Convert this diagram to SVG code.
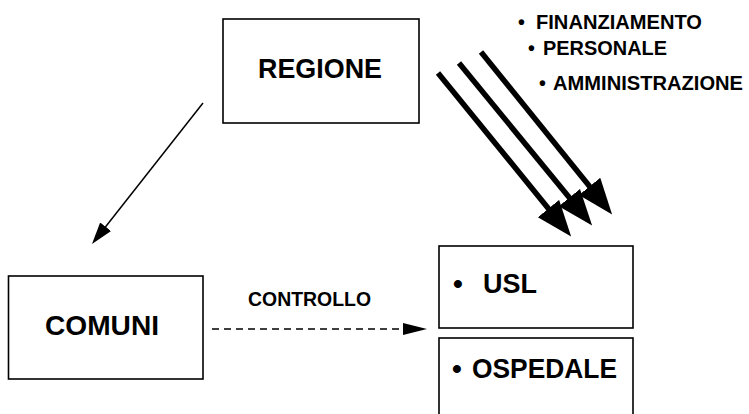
<svg xmlns="http://www.w3.org/2000/svg" width="749" height="414" viewBox="0 0 749 414">
  <defs>
    <style>
      .box { fill: #ffffff; stroke: #000000; stroke-width: 1.6; }
      .lbl { font-family: "Liberation Sans", Arial, sans-serif; font-weight: bold; fill: #000000; }
      .big { font-size: 28px; }
      .small { font-size: 19.5px; }
      .thin { stroke: #000000; stroke-width: 1.5; fill: none; }
      .thick { stroke: #000000; stroke-width: 5.5; fill: none; stroke-linecap: butt; }
      .dash { stroke: #000000; stroke-width: 1.3; fill: none; stroke-dasharray: 7 5; }
    </style>
    <marker id="headBig" markerUnits="userSpaceOnUse" markerWidth="38" markerHeight="30" viewBox="0 -14 36 28" refX="2" refY="0" orient="auto">
      <path d="M0,-13 L34,0 L0,13 Z" fill="#000000"/>
    </marker>
    <marker id="headSmall" markerUnits="userSpaceOnUse" markerWidth="24" markerHeight="16" viewBox="0 -8 24 16" refX="1" refY="0" orient="auto">
      <path d="M0,-7 L22,0 L0,7 Z" fill="#000000"/>
    </marker>
    <marker id="headDash" markerUnits="userSpaceOnUse" markerWidth="26" markerHeight="14" viewBox="0 -7 26 14" refX="1" refY="0" orient="auto">
      <path d="M0,-6 L24,0 L0,6 Z" fill="#000000"/>
    </marker>
  </defs>

  <rect width="749" height="414" fill="#ffffff"/>

  <g id="regione">
    <rect class="box" x="223" y="19" width="196" height="104"/>
    <text class="lbl big" x="258" y="78" textLength="124" lengthAdjust="spacingAndGlyphs">REGIONE</text>
  </g>

  <g id="comuni">
    <rect class="box" x="8.5" y="276" width="194.5" height="103"/>
    <text class="lbl big" x="45" y="335" textLength="114" lengthAdjust="spacingAndGlyphs">COMUNI</text>
  </g>

  <g id="usl">
    <rect class="box" x="439" y="246" width="194" height="82"/>
    <text class="lbl big" x="453" y="293">•</text>
    <text class="lbl big" x="483" y="293" textLength="54" lengthAdjust="spacingAndGlyphs">USL</text>
  </g>

  <g id="ospedale">
    <rect class="box" x="439" y="338" width="194" height="80"/>
    <text class="lbl big" x="452" y="378">•</text>
    <text class="lbl big" x="472" y="378" textLength="145" lengthAdjust="spacingAndGlyphs">OSPEDALE</text>
  </g>

  <g id="labels">
    <text class="lbl small" x="518" y="29">•</text>
    <text class="lbl small" x="536" y="29" textLength="166" lengthAdjust="spacingAndGlyphs">FINANZIAMENTO</text>
    <text class="lbl small" x="528" y="55">•</text>
    <text class="lbl small" x="543" y="55" textLength="124" lengthAdjust="spacingAndGlyphs">PERSONALE</text>
    <text class="lbl small" x="539" y="90">•</text>
    <text class="lbl small" x="553" y="90" textLength="190" lengthAdjust="spacingAndGlyphs">AMMINISTRAZIONE</text>
    <text class="lbl small" x="248" y="306" textLength="123" lengthAdjust="spacingAndGlyphs">CONTROLLO</text>
  </g>

  <g id="connectors">
    <line class="thin" x1="203" y1="103" x2="105" y2="227.5" marker-end="url(#headSmall)"/>
    <line class="dash" x1="212" y1="329" x2="404" y2="329" marker-end="url(#headDash)"/>
    <line class="thick" x1="438" y1="73" x2="549.8" y2="210.2" marker-end="url(#headBig)"/>
    <line class="thick" x1="459" y1="63" x2="570.7" y2="199.3" marker-end="url(#headBig)"/>
    <line class="thick" x1="481" y1="52" x2="590.9" y2="188.1" marker-end="url(#headBig)"/>
  </g>
</svg>
